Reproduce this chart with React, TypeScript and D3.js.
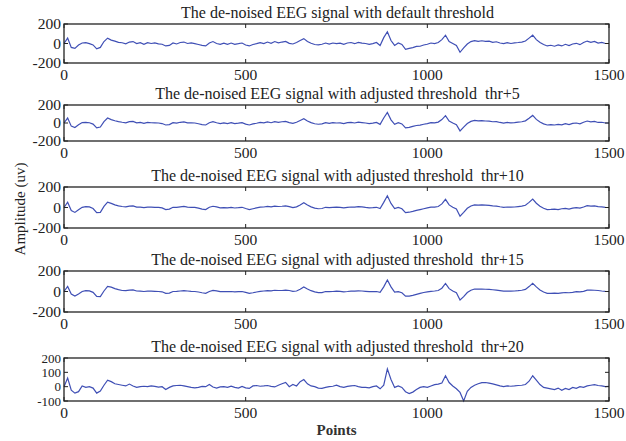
import React from "react";
import * as d3 from "d3";

// samples every 10 points, 0..1500
const step = 10;

const titles = [
  "The de-noised EEG signal with default threshold",
  "The de-noised EEG signal with adjusted threshold  thr+5",
  "The de-noised EEG signal with adjusted threshold  thr+10",
  "The de-noised EEG signal with adjusted threshold  thr+15",
  "The de-noised EEG signal with adjusted threshold  thr+20",
];

const xTicks = [0, 500, 1000, 1500];
const yTicksWide = [-200, 0, 200];
const yTicksLast = [-100, 0, 100, 200];

const sigDefault = [
  0, 55, -40, -50, -15, 5, 8, -2, -15, -55, -40, 20, 55, 35, 25, 12, 8, -3, 15, 20,
  0, 8, -8, 8, 0, 6, -3, -8, -25, -20, 5, -5, 10, 15, 0, 6, -2, -10, -20, -25,
  5, 20, 0, -8, 3, -8, 5, -8, -2, 5, -15, -25, -10, -2, 8, 0, 15, 2, 20, 6,
  15, 22, 2, -5, 10, 30, 50, 20, 2, -10, -15, -8, 5, -6, 5, -2, 4, -8, 5, 10,
  -2, 12, 4, 0, -8, -2, 10, -20, 60, 120, 30, -20, 5, -10, -60, -50, -42, -30, -28, -15,
  -8, 5, -2, 10, 40, 85, 20, 0, -20, -90, -45, -5, 20, 30, 22, 28, 22, 25, 12, 18,
  5, -2, 8, 0, 6, 10, 15, 25, 55, 85, 40, 10, -10, -25, -18, -28, -15, -25, -8, -22,
  -5, 2, -12, 10, 25, 12, 22, 5, 12, 0, 0,
];

const sigThr5 = [
  0, 55, -35, -50, -20, 5, 8, 3, -12, -55, -45, 15, 55, 38, 25, 15, 8, 2, 15, 18,
  2, 6, -5, 6, 3, 2, 0, -6, -22, -18, 3, -2, 8, 12, 2, 3, 0, -8, -18, -22,
  3, 15, 3, -6, 2, -6, 3, -6, -2, 4, -12, -22, -10, -3, 6, 2, 12, 3, 16, 8,
  14, 18, 4, -3, 8, 28, 48, 22, 4, -8, -14, -9, 4, -4, 4, 0, 2, -6, 4, 7,
  0, 10, 5, 0, -6, -2, 6, -15, 55, 118, 35, -15, 3, -10, -55, -48, -38, -28, -24, -14,
  -6, 4, 1, 10, 38, 82, 22, 0, -18, -88, -45, -5, 18, 28, 23, 26, 22, 21, 14, 16,
  6, -1, 6, 2, 5, 10, 14, 24, 52, 84, 40, 10, -10, -22, -18, -22, -16, -20, -8, -18,
  -5, 0, -9, 8, 22, 13, 18, 6, 8, 0, 0,
];

const sigThr10 = [
  0, 52, -30, -48, -22, 2, 8, 6, -10, -50, -48, 10, 52, 40, 26, 16, 10, 6, 14, 16,
  4, 4, -2, 4, 4, 1, 1, -4, -20, -16, 2, 1, 6, 10, 4, 1, 2, -6, -15, -20,
  2, 12, 6, -3, -1, -3, 1, -5, -2, 2, -10, -20, -12, -4, 4, 5, 10, 6, 14, 10,
  12, 16, 8, -1, 6, 25, 46, 24, 6, -6, -12, -10, 2, -2, 1, 4, 1, -4, 2, 5,
  3, 8, 6, 1, -3, -2, 2, -10, 50, 115, 40, -10, 0, -12, -50, -46, -38, -28, -20, -12,
  -4, 3, 4, 10, 35, 80, 25, 2, -15, -85, -48, -8, 15, 26, 24, 25, 23, 20, 16, 14,
  7, 2, 5, 3, 5, 9, 13, 22, 50, 82, 42, 12, -8, -20, -19, -15, -20, -12, -8, -15,
  -6, -1, -6, 5, 18, 14, 15, 8, 6, 1, 0,
];

const sigThr15 = [
  0, 50, -25, -45, -25, 0, 8, 6, -8, -48, -50, 5, 50, 42, 28, 18, 10, 8, 14, 15,
  5, 3, 0, 3, 3, 2, 0, -3, -18, -15, 0, 2, 5, 8, 5, 2, 0, -5, -12, -18,
  0, 10, 6, -2, -2, -2, 0, -4, -2, 0, -8, -18, -12, -5, 2, 5, 8, 7, 12, 10,
  10, 14, 10, 2, 5, 22, 44, 25, 8, -4, -10, -10, 0, -1, 0, 3, 2, -3, 0, 4,
  4, 6, 5, 2, -2, -1, 0, -8, 45, 112, 45, -5, -2, -12, -45, -45, -38, -28, -18, -10,
  -3, 2, 5, 10, 32, 78, 28, 4, -12, -82, -50, -10, 12, 24, 23, 24, 22, 20, 17, 13,
  8, 3, 4, 3, 5, 8, 12, 20, 48, 80, 45, 15, -5, -18, -18, -16, -18, -14, -10, -12,
  -8, -2, -4, 2, 14, 13, 12, 10, 5, 2, 0,
];

const sigThr20 = [
  0, 60, -25, -45, -35, 5, -5, 0, -10, -45, -30, 10, 45, 35, 20, 15, 10, 5, 18, 5,
  -5, 0, 3, 0, 5, 2, -3, 0, -20, -5, 5, 8, 10, 5, 0, -5, -8, -5, 2, 0,
  15, -2, -10, -2, 0, -5, 3, -5, -10, 2, -8, -12, 5, 8, 3, 5, 8, 2, -2, 10,
  20, 30, 0, 15, 5, 35, 50, 20, 5, 0, -10, -12, -5, 0, 3, 10, 0, -5, 2, 5,
  8, 0, -5, -5, -8, 0, 5, -15, 10, 124, 50, -5, 5, -5, -35, -48, -38, -20, -5, 0,
  -5, 5, 14, 18, 25, 76, 29, 5, -15, -40, -100, -33, -5, 10, 20, 28, 29, 25, 19, 12,
  5, 0, 5, 3, 5, 8, 10, 15, 38, 76, 45, 15, -5, -10, -15, -20, -10, -25, -12, -20,
  -5, -12, 0, -5, 5, 10, 14, 8, 5, 0, 3,
];

const series = [sigDefault, sigThr5, sigThr10, sigThr15, sigThr20];
const yDomains: [number, number][] = [
  [-200, 200],
  [-200, 200],
  [-200, 200],
  [-200, 200],
  [-100, 200],
];

// panel frames (top, bottom) in page pixels
const panels = [
  { top: 24, bottom: 63 },
  { top: 105, bottom: 141 },
  { top: 187, bottom: 228 },
  { top: 271, bottom: 312 },
  { top: 358, bottom: 401 },
];

const W = 626;
const H = 441;
const left = 64;
const right = 609;
const font = "'Liberation Serif', 'Times New Roman', serif";
const lineColor = "#3f4fb5";
const textColor = "#222";

function Panel({ i }: { i: number }) {
  const { top, bottom } = panels[i];
  const x = d3.scaleLinear().domain([0, 1500]).range([left, right]);
  const y = d3.scaleLinear().domain(yDomains[i]).range([bottom, top]);
  const yt = i === 4 ? yTicksLast : yTicksWide;
  // last panel has 4 labels in the same height, so a touch smaller
  const yFs = i === 4 ? 13 : 15.5;
  const data = series[i];
  const line = d3
    .line<number>()
    .x((_, k) => x(k * step))
    .y((d) => y(d));
  const tk = 4;
  return (
    <g>
      <text
        x={(left + right) / 2 + 1}
        y={top - 6}
        textAnchor="middle"
        fontSize={16}
        fill={textColor}
        style={{ whiteSpace: "pre" }}
      >
        {titles[i]}
      </text>
      <path d={line(data) || ""} fill="none" stroke={lineColor} strokeWidth={1.2} />
      <rect
        x={left}
        y={top}
        width={right - left}
        height={bottom - top}
        fill="none"
        stroke="#222"
        strokeWidth={1.3}
      />
      {xTicks.map((t) => (
        <g key={"x" + t}>
          <line x1={x(t)} x2={x(t)} y1={bottom} y2={bottom - tk} stroke="#222" />
          <line x1={x(t)} x2={x(t)} y1={top} y2={top + tk} stroke="#222" />
          <text
            x={x(t)}
            y={bottom + 17}
            textAnchor="middle"
            fontSize={15.5}
            fill={textColor}
          >
            {t}
          </text>
        </g>
      ))}
      {yt.map((t) => (
        <g key={"y" + t}>
          <line x1={left} x2={left + tk} y1={y(t)} y2={y(t)} stroke="#222" />
          <line x1={right} x2={right - tk} y1={y(t)} y2={y(t)} stroke="#222" />
          <text
            x={left - 3}
            y={y(t)}
            dy="0.35em"
            textAnchor="end"
            fontSize={yFs}
            fill={textColor}
          >
            {t}
          </text>
        </g>
      ))}
    </g>
  );
}

export default function App() {
  return (
    <svg
      width={W}
      height={H}
      style={{ position: "absolute", left: 0, top: 0, background: "#fff" }}
      fontFamily={font}
    >
      {series.map((_, i) => (
        <Panel key={i} i={i} />
      ))}
      <text
        x={(left + right) / 2}
        y={435}
        textAnchor="middle"
        fontSize={15}
        fontWeight="bold"
        fill="#333"
      >
        Points
      </text>
      <text
        transform={`translate(25,${209}) rotate(-90)`}
        textAnchor="middle"
        fontSize={15}
        fill={textColor}
      >
        Amplitude (uv)
      </text>
    </svg>
  );
}
